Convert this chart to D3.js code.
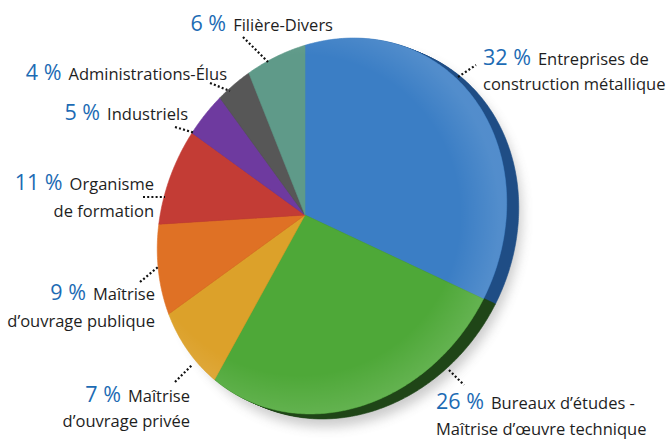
<!DOCTYPE html>
<html><head><meta charset="utf-8">
<script src="https://cdn.jsdelivr.net/npm/d3@7"></script>
<style>body{margin:0;background:#fff} svg{display:block}</style>
</head><body>
<script>
// ---- data ----
const categories = ["Entreprises de construction métallique","Bureaux d’études - Maîtrise d’œuvre technique","Maîtrise d’ouvrage privée","Maîtrise d’ouvrage publique","Organisme de formation","Industriels","Administrations-Élus","Filière-Divers"];
const values = [32, 26, 7, 9, 11, 5, 4, 6];
const labelLines = [["Entreprises de","construction métallique"],["Bureaux d’études -","Maîtrise d’œuvre technique"],["Maîtrise","d’ouvrage privée"],["Maîtrise","d’ouvrage publique"],["Organisme","de formation"],["Industriels"],["Administrations-Élus"],["Filière-Divers"]];
const colors = ["#3b7ec5","#4ea838","#dca12a","#df7125","#c33c35","#6e3a9f","#575757","#5f9a89"];
const sideColors = ["#1f4d85","#1f4517","#6e5014","#703812","#601d1a","#371d50","#2b2b2b","#2f4d44"];

// ---- label layout (annotation placement) ----
const labelLayout = [
  {x:483, y:65,  anchor:"start", x2:483, y2:90,  lead:[458,77,476,65]},
  {x:436, y:409, anchor:"start", x2:436, y2:435, lead:[449,370,464,385]},
  {x:190, y:402, anchor:"end",   x2:190, y2:427, lead:[175,382,192,365]},
  {x:155, y:300, anchor:"end",   x2:155, y2:327, lead:[140,282,158,267]},
  {x:154, y:190, anchor:"end",   x2:154, y2:217, lead:[143,197,165,197]},
  {x:188, y:120, anchor:"end",   lead:[175,127,195,133]},
  {x:227, y:80,  anchor:"end",   lead:[210,83,230,91]},
  {x:333, y:31,  anchor:"end",   lead:[243,37,268,62]}
];

const W = 672, H = 439;
const apex = {x:305, y:215};
const ell = {cx:332, cy:226, a:194, b:168, rot:-60.3*Math.PI/180};
const side = {dx:12, dy:5};

const svg = d3.select("body").append("svg").attr("width", W).attr("height", H);
const defs = svg.append("defs");
defs.append("filter").attr("id","blur").attr("x","-20%").attr("y","-20%").attr("width","140%").attr("height","140%")
  .append("feGaussianBlur").attr("stdDeviation", 6);
const rg = defs.append("radialGradient").attr("id","shine")
  .attr("gradientUnits","userSpaceOnUse").attr("cx", 300).attr("cy", 215).attr("r", 200);
rg.append("stop").attr("offset","80%").attr("stop-color","#fff").attr("stop-opacity",0);
rg.append("stop").attr("offset","100%").attr("stop-color","#fff").attr("stop-opacity",0.12);

// ray from apex at screen angle t (clockwise from 12 o'clock) to the rim ellipse
function rim(t) {
  const dx = Math.sin(t), dy = -Math.cos(t);
  const c = Math.cos(-ell.rot), s = Math.sin(-ell.rot);
  const qx0 = apex.x - ell.cx, qy0 = apex.y - ell.cy;
  const qx = qx0*c - qy0*s, qy = qx0*s + qy0*c;
  const ux = dx*c - dy*s, uy = dx*s + dy*c;
  const A = ux*ux/(ell.a*ell.a) + uy*uy/(ell.b*ell.b);
  const B = 2*(qx*ux/(ell.a*ell.a) + qy*uy/(ell.b*ell.b));
  const C = qx*qx/(ell.a*ell.a) + qy*qy/(ell.b*ell.b) - 1;
  const r = (-B + Math.sqrt(B*B - 4*A*C)) / (2*A);
  return [apex.x + r*dx, apex.y + r*dy];
}
function slicePath(d, ox=0, oy=0) {
  const p = d3.path();
  p.moveTo(apex.x+ox, apex.y+oy);
  const n = Math.max(4, Math.ceil((d.endAngle - d.startAngle)/0.01));
  for (let i = 0; i <= n; i++) {
    const t = d.startAngle + (d.endAngle - d.startAngle)*i/n;
    const [x, y] = rim(t);
    p.lineTo(x+ox, y+oy);
  }
  p.closePath();
  return p.toString();
}

const pie = d3.pie().sort(null).value(d => d)(values);
const color = d3.scaleOrdinal().domain(d3.range(values.length)).range(colors);
const sideColor = d3.scaleOrdinal().domain(d3.range(values.length)).range(sideColors);

// soft shadow
svg.append("g").attr("filter","url(#blur)").attr("opacity",0.3)
  .selectAll("path").data(pie).join("path")
  .attr("d", d => slicePath(d, side.dx+3, side.dy+8)).attr("fill","#555");

// side (extrusion)
const steps = d3.range(1, 9).map(k => k/8);
const sideG = svg.append("g");
steps.forEach(k => {
  sideG.append("g").selectAll("path").data(pie).join("path")
    .attr("d", d => slicePath(d, side.dx*k, side.dy*k))
    .attr("fill", (d,i) => sideColor(i))
    .attr("stroke", (d,i) => sideColor(i)).attr("stroke-width", 0.6);
});

// top faces
const faceG = svg.append("g");
faceG.selectAll("path.face").data(pie).join("path").attr("class","face")
  .attr("d", d => slicePath(d))
  .attr("fill", (d,i) => color(i))
  .attr("stroke", (d,i) => color(i)).attr("stroke-width", 0.6);
faceG.selectAll("path.shine").data(pie).join("path").attr("class","shine")
  .attr("d", d => slicePath(d)).attr("fill","url(#shine)");

// leaders
svg.append("g").selectAll("line").data(labelLayout).join("line")
  .attr("x1", d => d.lead[0]).attr("y1", d => d.lead[1])
  .attr("x2", d => d.lead[2]).attr("y2", d => d.lead[3])
  .attr("stroke","#111").attr("stroke-width",2.2).attr("stroke-dasharray","2 2.2");

// labels
const font = "'Open Sans', sans-serif";
const lab = svg.append("g").attr("font-family", font);
labelLayout.forEach((L, i) => {
  const t = lab.append("text").attr("x", L.x).attr("y", L.y).attr("text-anchor", L.anchor);
  t.append("tspan").attr("fill","#1c6bb4").attr("font-size",21.5).text(values[i] + " %");
  t.append("tspan").attr("dx",7).attr("fill","#1e1e1e").attr("font-size",16.5).text(labelLines[i][0]);
  if (labelLines[i][1]) {
    lab.append("text").attr("x", L.x2).attr("y", L.y2).attr("text-anchor", L.anchor)
      .attr("fill","#1e1e1e").attr("font-size",16.5).text(labelLines[i][1]);
  }
});
</script>
</body></html>
